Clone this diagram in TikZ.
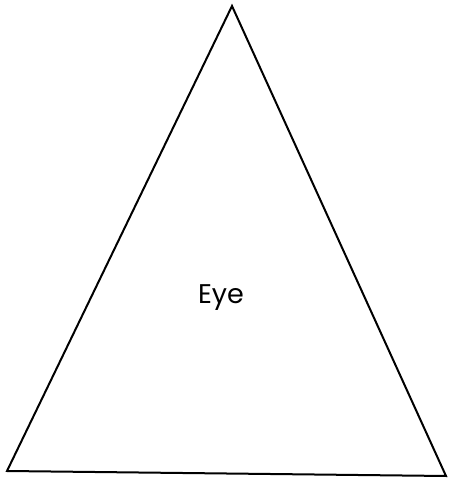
\documentclass[tikz,border=0pt]{standalone}
\usepackage{fontspec}
\setmainfont{Poppins}
\begin{document}
\begin{tikzpicture}[x=1pt,y=1pt,
  tri/.style={draw=black,line width=2pt,line join=miter},
  lbl/.style={font=\fontsize{27}{30}\selectfont,inner sep=0pt}]
\useasboundingbox (0,0) rectangle (448,480);
\coordinate (top) at (232,474);
\coordinate (bl) at (7,9);
\coordinate (br) at (446,4);
\draw[tri] (top) -- (bl) -- (br) -- cycle;
\node[lbl,anchor=base] (eye) at (221,176) {Eye};
\end{tikzpicture}
\end{document}
